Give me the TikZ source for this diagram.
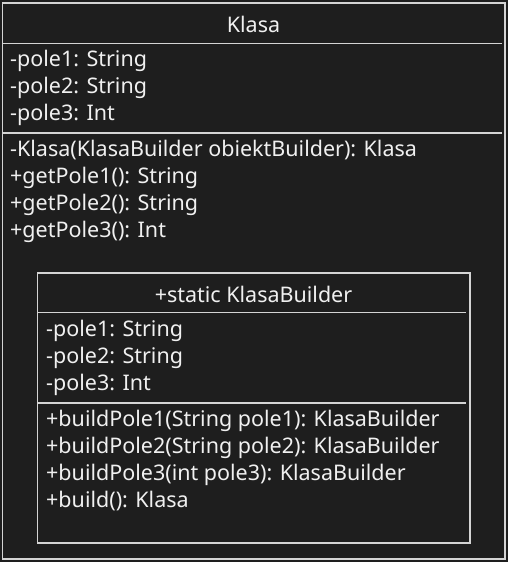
\documentclass[tikz,border=0pt]{standalone}
\usepackage{fontspec}
\setmainfont{Noto Sans}
\definecolor{bgdark}{HTML}{1E1E1E}
\definecolor{umlline}{HTML}{D4D4D4}
\definecolor{umltext}{HTML}{F0F0F0}
\tikzset{
  umlbox/.style={draw=umlline, line width=1.3pt},
  umlsep/.style={umlline, line width=1.3pt},
  title/.style={text=umltext, font=\fontsize{21.5}{26}\selectfont, inner sep=0pt},
  member/.style={text=umltext, font=\fontsize{21.5}{26}\selectfont, anchor=west, inner sep=0pt}
}
\begin{document}
\begin{tikzpicture}[x=1pt, y=-1pt]
  % background and page size
  \fill[bgdark] (0,0) rectangle (508,562);
  \useasboundingbox (0,0) rectangle (508,562);

  % outer class Klasa
  \draw[umlbox] (2.5,3) rectangle (505,559);
  \node[title] (klasa) at (253.5,24) {Klasa};
  \draw[umlsep] (2.5,43.5) -- (502,43.5);
  \node[member] (k1) at (10,60.5) {-pole1: String};
  \node[member] (k2) at (10,87.5) {-pole2: String};
  \node[member] (k3) at (10,114.5) {-pole3: Int};
  \draw[umlsep] (2.5,133) -- (502,133);
  \node[member] (km0) at (10,150.5) {-Klasa(KlasaBuilder obiektBuilder): Klasa};
  \node[member] (km1) at (10,177.5) {+getPole1(): String};
  \node[member] (km2) at (10,204.5) {+getPole2(): String};
  \node[member] (km3) at (10,231.5) {+getPole3(): Int};

  % nested class KlasaBuilder
  \draw[umlbox] (37.5,273) rectangle (470,543);
  \node[title] (builder) at (253.5,294) {+static KlasaBuilder};
  \draw[umlsep] (37.5,312.5) -- (466,312.5);
  \node[member] (b1) at (46,330.5) {-pole1: String};
  \node[member] (b2) at (46,357.5) {-pole2: String};
  \node[member] (b3) at (46,384.5) {-pole3: Int};
  \draw[umlsep] (37.5,403) -- (466,403);
  \node[member] (bm1) at (46,420.5) {+buildPole1(String pole1): KlasaBuilder};
  \node[member] (bm2) at (46,447.5) {+buildPole2(String pole2): KlasaBuilder};
  \node[member] (bm3) at (46,474.5) {+buildPole3(int pole3): KlasaBuilder};
  \node[member] (bm4) at (46,501.5) {+build(): Klasa};
\end{tikzpicture}
\end{document}
